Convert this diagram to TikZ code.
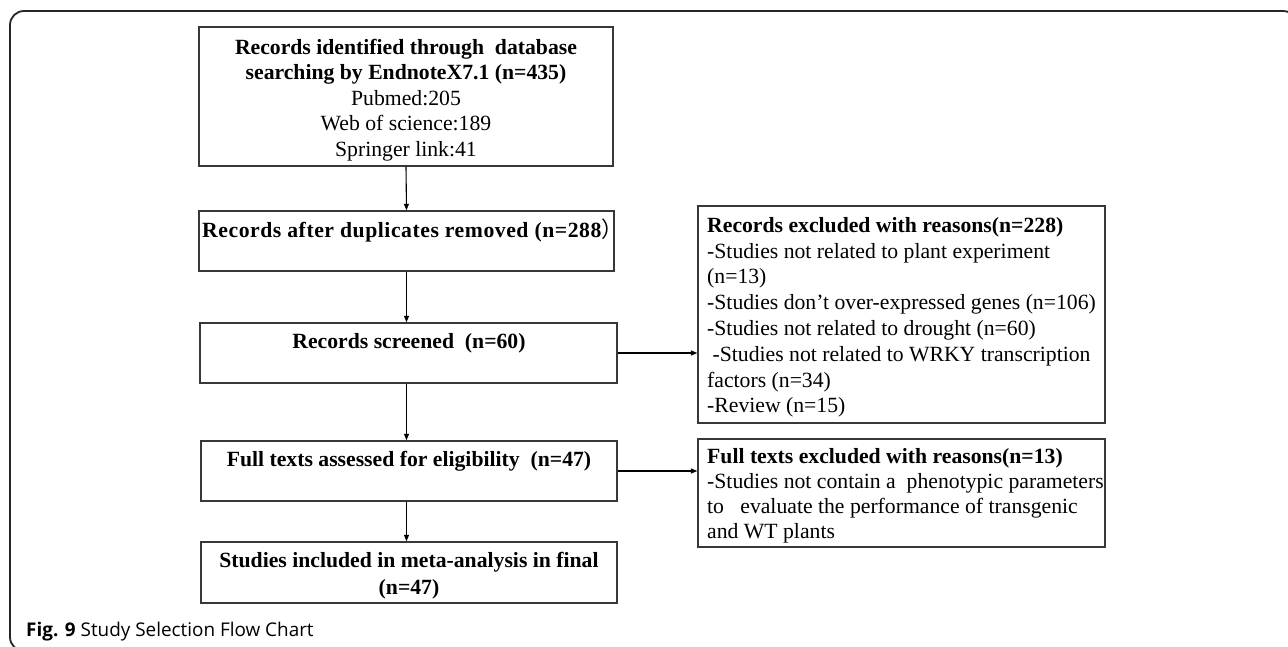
\documentclass[tikz,border=0pt]{standalone}
\usepackage{fontspec}
\setmainfont{Liberation Serif}
\newfontfamily\capfont{Open Sans}
\newfontfamily\cjk{Noto Sans CJK SC}
\usetikzlibrary{arrows.meta}
\begin{document}
\begin{tikzpicture}[x=1pt,y=-1pt,
  boxline/.style={draw=black!78, line width=1.4pt, inner sep=0pt},
  body/.style={font=\fontsize{21.7}{25.6}\selectfont, inner sep=0pt},
  conn/.style={line width=1.1pt, -{Triangle[length=6.5pt,width=5pt]}, black}]
\useasboundingbox (0,0) rectangle (1288,647);
\fill[white] (0,0) rectangle (1288,647);
% outer frame
\draw[line width=1.8pt, black!85, rounded corners=14pt] (10,11) rectangle (1297,651);

% left column boxes
\node[boxline, minimum width=414pt, minimum height=139pt] (b1) at (406,96.5) {};
\node[boxline, minimum width=415pt, minimum height=60pt] (b2) at (406.5,241) {};
\node[boxline, minimum width=417pt, minimum height=60pt] (b3) at (408.5,353) {};
\node[boxline, minimum width=416pt, minimum height=60pt] (b4) at (409,471) {};
\node[boxline, minimum width=416pt, minimum height=61pt] (b5) at (409,572.5) {};
% right column boxes
\node[boxline, minimum width=407pt, minimum height=217pt] (e1) at (901.5,314.5) {};
\node[boxline, minimum width=407pt, minimum height=108pt] (e2) at (901.5,493) {};

% texts
\node[body, align=center] (t1) at (406,100)
  {\textbf{Records identified through\ \ database}\\
   \textbf{searching by EndnoteX7.1 (n=435)}\\
   Pubmed:205\\ Web of science:189\\ Springer link:41};
\node[body, anchor=base west] (t2) at (202,238)
  {\addfontfeature{LetterSpace=2.5}\textbf{Records after duplicates removed (n=288}{\cjk ）}};
\node[body, anchor=base] (t3) at (409,348)
  {\textbf{Records screened\ \ (n=60)}};
\node[body, anchor=base] (t4) at (409,466)
  {\textbf{Full texts assessed for eligibility\ \ (n=47)}};
\node[body, align=center, font=\fontsize{21.7}{27}\selectfont] (t5) at (409,576)
  {\textbf{Studies included in meta-analysis in final}\\ \textbf{(n=47)}};
\node[body, align=left, anchor=north west, font=\fontsize{21.7}{25.8}\selectfont] (te1) at (707,217)
  {\textbf{Records excluded with reasons(n=228)}\\
   -Studies not related to plant experiment\\
   (n=13)\\
   -Studies don’t over-expressed genes (n=106)\\
   -Studies not related to drought (n=60)\\
   \ -Studies not related to WRKY transcription\\
   factors (n=34)\\
   -Review (n=15)};
\node[body, align=left, anchor=north west, font=\fontsize{21.7}{25}\selectfont] (te2) at (707,448)
  {\textbf{Full texts excluded with reasons(n=13)}\\
   -Studies not contain a\ \ phenotypic parameters\\
   to\ \ \ evaluate the performance of transgenic\\
   and WT plants};

% connectors
\draw[conn] (b1.south) -- (b2.north);
\draw[conn] (b2.south) -- (b2.south |- b3.north);
\draw[conn] (b3.south -| b2.south) -- (b2.south |- b4.north);
\draw[conn] (b4.south -| b2.south) -- (b2.south |- b5.north);
\draw[conn] (b3.east) -- (b3.east -| e1.west);
\draw[conn] (b4.east) -- (b4.east -| e2.west);

% caption
\node[anchor=base west, inner sep=0pt, font=\capfont\fontsize{18.9}{22}\selectfont] (cap) at (26,636)
  {\textbf{Fig. 9} Study Selection Flow Chart};
\end{tikzpicture}
\end{document}
